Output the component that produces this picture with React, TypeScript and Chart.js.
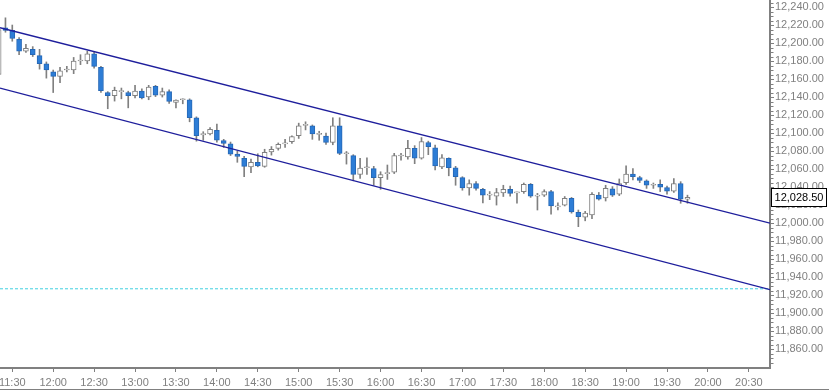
import React, { useEffect, useRef } from 'react';
import { Chart, registerables } from 'chart.js';

Chart.register(...registerables);
Chart.defaults.font.family = "'Liberation Sans', Arial, sans-serif";

// 5-minute bars, first bar at 11:20
const START_TIME = '11:20';
const BAR_MINUTES = 5;

const opens = [
  12165, 12217, 12214, 12204, 12191, 12193, 12186, 12177, 12168, 12163,
  12170, 12170, 12180, 12180, 12188, 12173, 12145, 12141.5, 12146, 12145,
  12141.5, 12146.5, 12140, 12152, 12142, 12146, 12134, 12137, 12137, 12117,
  12098, 12099, 12103, 12091.5, 12088, 12076.5, 12072, 12062.5, 12067.5, 12063,
  12079, 12083, 12088, 12090.5, 12097, 12108.5, 12108, 12098.5, 12096.5, 12089.5,
  12108, 12077, 12075, 12054, 12061.5, 12060.5, 12050.5, 12055, 12056.5, 12074.5,
  12073.5, 12083, 12072, 12089.5, 12083.5, 12062.5, 12072, 12061.5, 12050.5, 12039,
  12044, 12037.5, 12031, 12030, 12033.5, 12037.5, 12033.5, 12035, 12043, 12030,
  12031, 12035, 12018, 12020, 12027.5, 12012, 12006.5, 12009, 12031, 12028,
  12038, 12032, 12045, 12054.5, 12050.5, 12047, 12042, 12043, 12039.5, 12035.5,
  12044, 12026.5,
];
const highs = [
  12218, 12228, 12220, 12206, 12198.5, 12196, 12193, 12179, 12170, 12173,
  12174, 12184, 12187, 12191, 12190, 12174, 12146, 12151, 12150, 12146.5,
  12153, 12149, 12153, 12153, 12150, 12148, 12137, 12138, 12138, 12118,
  12101.5, 12106, 12110, 12093, 12090, 12080, 12074, 12071, 12077, 12082,
  12085, 12089, 12093, 12097, 12111, 12112.5, 12109, 12102, 12100, 12117,
  12117, 12079.5, 12076, 12072, 12072.5, 12063, 12057, 12064.5, 12077.5, 12077.5,
  12092, 12086, 12095, 12091, 12086.5, 12076, 12072.5, 12063, 12051.5, 12048,
  12046, 12038.5, 12035, 12038.5, 12042, 12041, 12034.5, 12044.5, 12044, 12033,
  12037, 12036.5, 12022.5, 12029.5, 12028.5, 12014.5, 12013, 12034, 12034, 12042,
  12040.5, 12049, 12063.5, 12060.5, 12052, 12048, 12044.5, 12048, 12041, 12049.5,
  12046, 12031,
];
const lows = [
  12160, 12212, 12202, 12187, 12189.5, 12185, 12171, 12161, 12145, 12156,
  12168, 12166, 12176, 12177, 12172, 12145, 12127, 12135.5, 12138, 12128,
  12139, 12138, 12137, 12140.5, 12140, 12133, 12128, 12132.5, 12112.5, 12091,
  12092, 12098, 12090, 12084, 12075, 12067.5, 12051.5, 12056, 12062.5, 12062,
  12075.5, 12081, 12084, 12088.5, 12094, 12103.5, 12093, 12092, 12087.5, 12087,
  12076, 12065.5, 12047, 12049.5, 12054, 12042, 12037.5, 12048.5, 12055, 12070,
  12071, 12066, 12071, 12076, 12059, 12060.5, 12052.5, 12042, 12036.5, 12031,
  12036.5, 12022.5, 12026, 12020, 12029.5, 12030, 12022, 12033, 12028.5, 12014.5,
  12029.5, 12010, 12014.5, 12019, 12011, 11996, 12002.5, 12005, 12025.5, 12024.5,
  12029.5, 12030.5, 12043, 12048, 12045, 12038.5, 12038.5, 12035, 12032, 12034,
  12022, 12022,
];
const closes = [
  12215, 12214, 12205, 12191, 12194, 12187, 12177, 12170, 12163, 12169,
  12170.5, 12180, 12181, 12188, 12174, 12147, 12141.5, 12147.5, 12147, 12141.5,
  12146.5, 12139, 12151, 12142, 12146, 12135, 12136.5, 12137.5, 12117, 12097,
  12099.5, 12104, 12092, 12088.5, 12076.5, 12074, 12063, 12067.5, 12063.5, 12078.5,
  12082, 12087.5, 12089, 12096, 12108, 12109, 12099, 12099, 12089.5, 12108,
  12077.5, 12077.5, 12054, 12061, 12062, 12050.5, 12054, 12055.5, 12075, 12075,
  12083, 12072, 12090.5, 12085, 12063.5, 12072.5, 12061.5, 12051.5, 12039, 12044,
  12038.5, 12031, 12031.5, 12034, 12037.5, 12033, 12034, 12043, 12030, 12030.5,
  12035, 12019, 12018.5, 12027.5, 12012.5, 12007, 12011, 12032, 12026.5, 12038.5,
  12031, 12044, 12054.5, 12051.5, 12047.5, 12042, 12042.5, 12040, 12035.5, 12044,
  12026.5, 12028.5,
];

const xTickLabels = [
  '11:30', '12:00', '12:30', '13:00', '13:30', '14:00', '14:30', '15:00', '15:30', '16:00',
  '16:30', '17:00', '17:30', '18:00', '18:30', '19:00', '19:30', '20:00', '20:30',
];
const yTickValues = [
  11860, 11880, 11900, 11920, 11940, 11960, 11980, 12000, 12020, 12040,
  12060, 12080, 12100, 12120, 12140, 12160, 12180, 12200, 12220, 12240,
];

// channel lines: [value at left edge, value at right edge]
const upperChannel = [12217, 12000];
const lowerChannel = [12150, 11926];
const referenceLevel = [11927, 11927];

const X_MIN_LABEL = '11:21';
const X_MAX_LABEL = '20:45.5';
const Y_MIN = 11839;
const Y_MAX = 12247.8;

const BLUE = '#2d7dd6';
const BLUE_EDGE = '#2668b6';
const GRAY = '#808080';
const NAVY = '#1e1e9c';
const CYAN = '#3fd0e0';

const toMin = (s: string) => {
  const [h, m] = s.split(':');
  return Number(h) * 60 + Number(m);
};
const fmtTime = (v: number) => {
  const h = Math.floor(v / 60);
  const m = Math.round(v - h * 60);
  return `${h}:${m < 10 ? '0' : ''}${m}`;
};
const fmtPrice = (v: number) =>
  v.toLocaleString('en-US', { minimumFractionDigits: 2, maximumFractionDigits: 2 });

export default function App() {
  const ref = useRef<HTMLCanvasElement | null>(null);

  useEffect(() => {
    if (!ref.current) return;
    const xMin = toMin(X_MIN_LABEL);
    const xMax = toMin(X_MAX_LABEL);
    const t0 = toMin(START_TIME);
    const times = opens.map((_, i) => t0 + BAR_MINUTES * i);
    const isUp = opens.map((o, i) => closes[i] >= o);
    const lastPrice = closes[closes.length - 1];

    const minorTicks = {
      id: 'minorTicks',
      afterDraw(chart: any) {
        const y = chart.scales.y;
        const ctx = chart.ctx;
        ctx.save();
        ctx.strokeStyle = GRAY;
        ctx.lineWidth = 1;
        for (let v = Math.ceil(Y_MIN / 5) * 5; v <= Y_MAX; v += 5) {
          if (v % 20 === 0) continue;
          const py = Math.round(y.getPixelForValue(v)) + 0.5;
          ctx.beginPath();
          ctx.moveTo(771, py);
          ctx.lineTo(773.5, py);
          ctx.stroke();
        }
        // bottom frame line
        ctx.beginPath();
        ctx.moveTo(0, chart.height - 0.5);
        ctx.lineTo(chart.width, chart.height - 0.5);
        ctx.stroke();
        ctx.restore();
      },
    };

    const priceBox = {
      id: 'priceBox',
      afterDraw(chart: any) {
        const y = chart.scales.y.getPixelForValue(lastPrice);
        const ctx = chart.ctx;
        ctx.save();
        const left = 771.5;
        const w = 55;
        const h = 18;
        const top = Math.round(y - h / 2) + 0.5;
        ctx.fillStyle = '#ffffff';
        ctx.fillRect(left, top, w, h);
        ctx.strokeStyle = '#000000';
        ctx.lineWidth = 1;
        ctx.strokeRect(left, top, w, h);
        ctx.fillStyle = '#000000';
        ctx.font = "11px 'Liberation Sans', Arial, sans-serif";
        ctx.textAlign = 'center';
        ctx.textBaseline = 'middle';
        ctx.fillText(fmtPrice(lastPrice), left + w / 2, top + h / 2 + 0.5);
        ctx.restore();
      },
    };

    const chart = new Chart(ref.current, {
      type: 'bar',
      data: {
        datasets: [
          {
            type: 'line',
            data: [
              { x: xMin, y: upperChannel[0] },
              { x: xMax, y: upperChannel[1] },
            ],
            borderColor: NAVY,
            borderWidth: 1.3,
            pointRadius: 0,
            order: 0,
          } as any,
          {
            type: 'line',
            data: [
              { x: xMin, y: lowerChannel[0] },
              { x: xMax, y: lowerChannel[1] },
            ],
            borderColor: NAVY,
            borderWidth: 1.3,
            pointRadius: 0,
            order: 0,
          } as any,
          {
            type: 'line',
            data: [
              { x: xMin, y: referenceLevel[0] },
              { x: xMax, y: referenceLevel[1] },
            ],
            borderColor: CYAN,
            borderWidth: 1,
            borderDash: [3, 2],
            pointRadius: 0,
            order: 0,
          } as any,
          {
            type: 'bar',
            data: times.map((t, i) => ({ x: t, y: [opens[i], closes[i]] })),
            backgroundColor: isUp.map((u) => (u ? '#ffffff' : BLUE)),
            borderColor: isUp.map((u) => (u ? GRAY : BLUE_EDGE)),
            borderWidth: 1,
            borderSkipped: false,
            barThickness: 5,
            grouped: false,
            minBarLength: 1,
            order: 1,
          } as any,
          {
            type: 'bar',
            data: times.map((t, i) => ({ x: t, y: [lows[i], highs[i]] })),
            backgroundColor: GRAY,
            borderWidth: 0,
            barThickness: 1,
            grouped: false,
            order: 2,
          } as any,
        ],
      },
      options: {
        responsive: false,
        animation: false,
        events: [],
        layout: { padding: 0 },
        plugins: { legend: { display: false }, tooltip: { enabled: false } },
        scales: {
          x: {
            type: 'linear',
            min: xMin,
            max: xMax,
            offset: false,
            afterBuildTicks: (s: any) => {
              s.ticks = xTickLabels.map((l) => ({ value: toMin(l) }));
            },
            afterFit: (s: any) => {
              s.height = 22;
              s.paddingLeft = 0;
              s.paddingRight = 0;
            },
            grid: {
              offset: false,
              drawOnChartArea: false,
              drawTicks: true,
              tickLength: 4,
              color: GRAY,
            },
            border: { display: true, color: GRAY, width: 2 },
            ticks: {
              autoSkip: false,
              maxRotation: 0,
              padding: 4,
              color: GRAY,
              font: { size: 11 },
              callback: (v: any) => fmtTime(Number(v)),
            },
          },
          y: {
            type: 'linear',
            position: 'right',
            min: Y_MIN,
            max: Y_MAX,
            afterBuildTicks: (s: any) => {
              s.ticks = yTickValues.map((v) => ({ value: v }));
            },
            afterFit: (s: any) => {
              s.width = 59;
              s.paddingTop = 0;
              s.paddingBottom = 0;
            },
            grid: {
              drawOnChartArea: false,
              drawTicks: true,
              tickLength: 4,
              color: GRAY,
            },
            border: { display: true, color: GRAY, width: 2 },
            ticks: {
              padding: 1,
              color: GRAY,
              font: { size: 11 },
              callback: (v: any) => fmtPrice(Number(v)),
            },
          },
        },
      } as any,
      plugins: [minorTicks, priceBox],
    });
    return () => chart.destroy();
  }, []);

  return (
    <div style={{ position: 'fixed', left: 0, top: 0, width: 829, height: 390, background: '#fff' }}>
      <canvas ref={ref} width={829} height={390} style={{ display: 'block' }} />
    </div>
  );
}
